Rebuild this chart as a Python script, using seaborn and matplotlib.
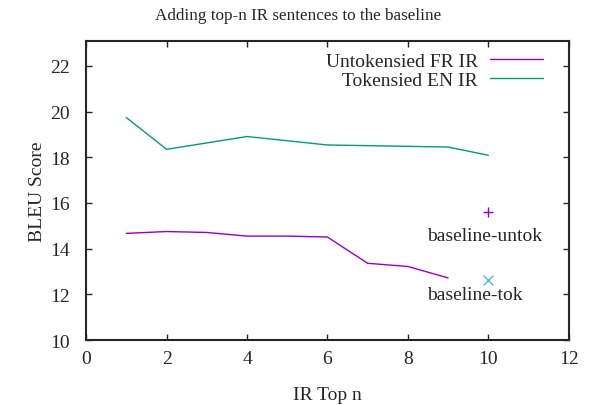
import numpy as np
import pandas as pd
import matplotlib
matplotlib.use("Agg")
import matplotlib.pyplot as plt
import seaborn as sns

# Data
top_n_fr = [1, 2, 3, 4, 5, 6, 7, 8, 9]
untok_fr_ir = [14.67, 14.75, 14.71, 14.55, 14.55, 14.51, 13.36, 13.22, 12.72]
top_n_en = [1, 2, 4, 6, 9, 10]
tok_en_ir = [19.74, 18.35, 18.91, 18.54, 18.45, 18.09]
baseline_x = [10]
baseline_untok = [15.62]
baseline_tok = [12.65]

sns.set_style("ticks")
plt.rcParams['font.family'] = ['Liberation Serif', 'DejaVu Serif']
plt.rcParams['font.size'] = 14
plt.rcParams['xtick.direction'] = 'in'
plt.rcParams['ytick.direction'] = 'in'

fig = plt.figure(figsize=(5.9, 4.06), dpi=100)
ax = fig.add_axes([0.146, 0.160, 0.818, 0.737])

df_fr = pd.DataFrame({"n": top_n_fr, "bleu": untok_fr_ir})
df_en = pd.DataFrame({"n": top_n_en, "bleu": tok_en_ir})
sns.lineplot(data=df_fr, x="n", y="bleu", ax=ax, color="#9400D3", lw=1.0,
             label="Untokensied FR IR")
sns.lineplot(data=df_en, x="n", y="bleu", ax=ax, color="#009E73", lw=1.0,
             label="Tokensied EN IR")
sns.scatterplot(x=baseline_x, y=baseline_untok, ax=ax, marker="+", color="#9400D3",
                s=60, linewidth=1.0)
sns.scatterplot(x=baseline_x, y=baseline_tok, ax=ax, marker="x", color="#56B4E9",
                s=50, linewidth=1.0)

ax.text(8.47, 14.57, "baseline-untok", ha="left", va="center", fontsize=14)
ax.text(8.47, 11.98, "baseline-tok", ha="left", va="center", fontsize=14)

ax.set_xlim(0, 12)
ax.set_ylim(10, 23.1)
ax.set_xticks(np.arange(0, 13, 2))
ax.set_yticks(np.arange(10, 23, 2))
ax.tick_params(top=True, right=True, length=4, width=1, labelsize=14)
ax.tick_params(axis="y", pad=12)
ax.tick_params(axis="x", pad=7)
for sp in ax.spines.values():
    sp.set_linewidth(1.5)

ax.set_xlabel("IR Top n", fontsize=14, labelpad=14)
ax.set_ylabel("BLEU Score", fontsize=14, labelpad=3)
fig.suptitle("Adding top-n IR sentences to the baseline", fontsize=12.3,
             x=0.505, y=0.98)

ax.legend(loc="upper right", bbox_to_anchor=(0.971, 1.0), frameon=False,
          markerfirst=False, fontsize=14, handlelength=2.75, handletextpad=0.6,
          borderaxespad=0.4, borderpad=0.2, labelspacing=0.05)

fig.savefig("out.png", dpi=100)
